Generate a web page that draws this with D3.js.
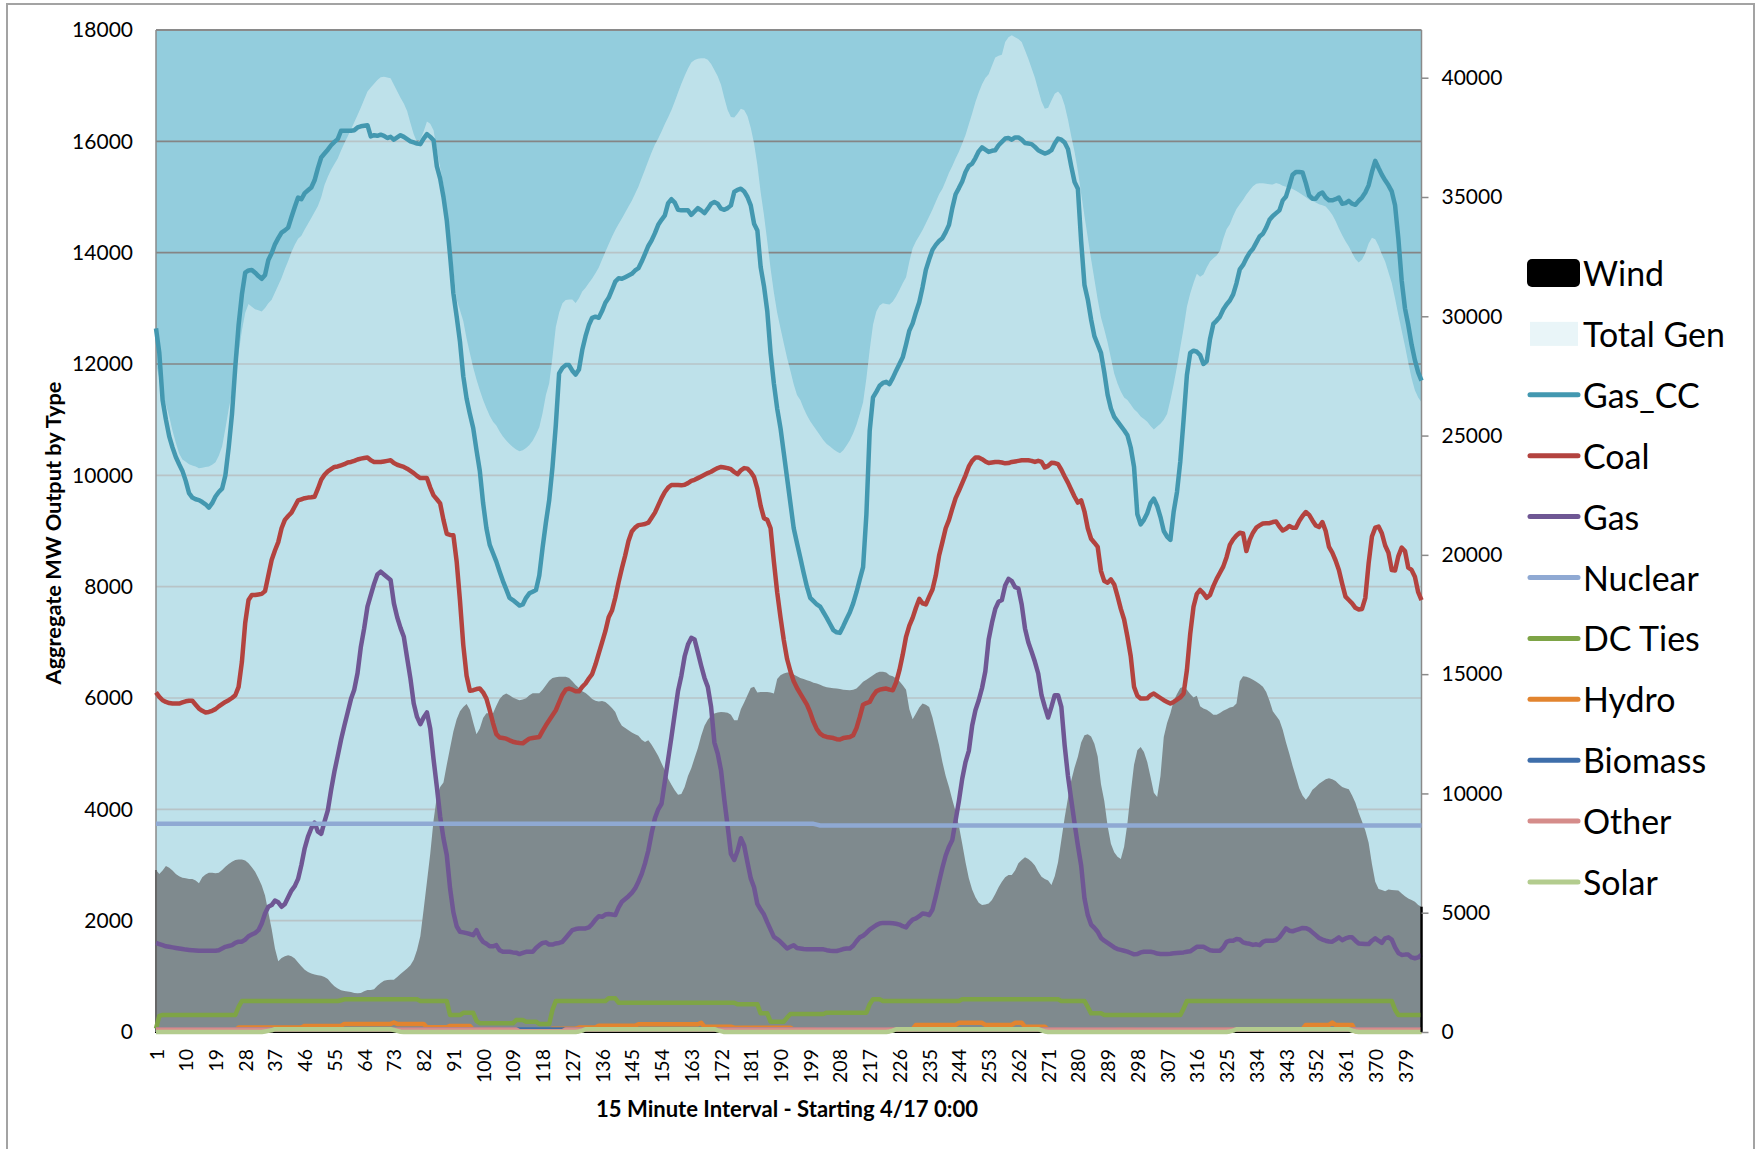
<!DOCTYPE html>
<html><head><meta charset="utf-8">
<script src="https://cdn.jsdelivr.net/npm/d3@7"></script>
<style>
html,body{margin:0;padding:0;background:#fff;}
svg{display:block;font-family:Lato,'Open Sans',sans-serif;}
</style></head>
<body>
<svg id="chart" width="1762" height="1149"></svg>
<script>
// ---------------- DATA ----------------
const categories = d3.range(1, 385); // 15-minute interval numbers 1..384
const xTickLabels = [1,10,19,28,37,46,55,64,73,82,91,100,109,118,127,136,145,154,163,172,181,190,199,208,217,226,235,244,253,262,271,280,289,298,307,316,325,334,343,352,361,370,379];
const leftTicks = [0,2000,4000,6000,8000,10000,12000,14000,16000,18000];
const rightTicks = [0,5000,10000,15000,20000,25000,30000,35000,40000];
const seriesNames = ["Wind","Total Gen","Gas_CC","Coal","Gas","Nuclear","DC Ties","Hydro","Biomass","Other","Solar"];

const wind = [
2910,2840,2900,2980,2950,2900,2840,2800,2770,2760,
2750,2750,2720,2670,2780,2830,2860,2860,2850,2860,
2910,2970,3020,3060,3090,3100,3100,3080,3030,2960,
2880,2760,2630,2450,2150,1850,1500,1270,1330,1360,
1380,1360,1320,1250,1180,1120,1080,1050,1035,1020,
1010,990,950,880,820,780,750,735,728,720,
700,695,700,730,755,755,770,830,880,920,
935,938,940,990,1040,1090,1140,1200,1300,1475,
1720,2200,2700,3200,3800,4230,4400,4480,4800,5100,
5400,5620,5760,5840,5890,5790,5560,5350,5450,5640,
5725,5725,5725,5860,5980,6050,6080,6050,6010,5980,
5960,5975,5995,6050,6085,6085,6085,6150,6230,6310,
6360,6375,6380,6380,6380,6360,6300,6235,6180,6120,
6090,6040,5980,5950,5935,5945,5930,5880,5820,5750,
5600,5500,5460,5420,5380,5350,5320,5250,5210,5240,
5160,5060,4960,4830,4700,4550,4440,4345,4260,4275,
4400,4600,4740,4920,5100,5320,5500,5610,5680,5720,
5740,5750,5745,5735,5700,5600,5600,5800,5920,6050,
6180,6200,6100,6110,6110,6110,6100,6080,6340,6410,
6440,6460,6460,6420,6390,6360,6340,6320,6300,6275,
6260,6240,6210,6195,6185,6175,6170,6160,6150,6145,
6140,6150,6170,6230,6290,6330,6370,6410,6450,6470,
6470,6460,6410,6390,6350,6300,6230,6150,5800,5620,
5720,5830,5900,5880,5840,5650,5400,5150,4850,4600,
4400,4170,3960,3700,3380,3050,2760,2560,2420,2320,
2280,2290,2310,2370,2480,2600,2700,2780,2820,2820,
2900,3030,3090,3140,3110,3060,2990,2880,2790,2750,
2720,2640,2800,3050,3450,3850,4200,4520,4750,4945,
5200,5330,5350,5310,5180,4950,4450,4150,3700,3380,
3230,3150,3110,3330,3750,4300,4800,5060,5120,5030,
4850,4580,4300,4220,4600,5300,5550,5725,5950,6070,
6180,6200,6150,6070,6010,6040,5850,5810,5790,5750,
5700,5700,5730,5770,5800,5830,5845,5900,6300,6390,
6380,6360,6330,6290,6250,6200,6110,5950,5760,5680,
5600,5430,5200,5000,4780,4580,4380,4250,4170,4250,
4350,4400,4460,4500,4540,4560,4540,4510,4450,4400,
4380,4360,4250,4120,3940,3780,3620,3400,3020,2700,
2570,2550,2530,2560,2550,2545,2540,2490,2440,2400,
2370,2340,2280,2250];

const totalGen = [
28000,27400,26800,26300,25800,25200,24700,24250,24000,23900,
23800,23750,23700,23630,23650,23680,23700,23780,23880,24150,
24540,25300,26100,26800,27700,28450,29400,30150,30520,30400,
30300,30250,30200,30350,30550,30690,31000,31300,31600,31980,
32320,32690,33000,33250,33380,33640,33880,34120,34370,34620,
34990,35500,35850,36140,36380,36610,36950,37250,37540,37830,
38130,38440,38750,39090,39420,39590,39750,39900,40020,40040,
40010,39980,39700,39430,39160,38920,38600,38100,37630,37300,
37400,37750,38160,38070,37800,36970,36240,35500,34500,33300,
31900,30700,30250,29800,29070,28450,27850,27350,26900,26490,
26150,25830,25580,25420,25170,24960,24790,24650,24520,24420,
24340,24380,24480,24610,24780,25050,25350,25950,26700,27190,
28300,29550,30150,30550,30680,30700,30700,30560,30760,31040,
31200,31400,31580,31800,32050,32380,32700,33020,33330,33620,
33870,34100,34350,34600,34840,35140,35430,35800,36150,36520,
36880,37200,37450,37750,38060,38340,38650,39000,39380,39750,
40080,40390,40640,40740,40800,40820,40820,40750,40580,40320,
40060,39700,39150,38650,38350,38330,38500,38700,38650,38400,
37900,37250,36350,35200,34250,33150,32000,31000,30150,29500,
28870,28250,27720,27150,26700,26490,26150,25850,25600,25400,
25200,25000,24800,24650,24540,24430,24330,24260,24380,24580,
24800,25100,25450,25900,26400,27400,28600,29650,30200,30450,
30550,30520,30490,30620,30840,31100,31380,31640,32300,32850,
33150,33380,33620,33900,34180,34480,34800,35120,35350,35670,
36020,36300,36610,36900,37240,37600,38050,38500,38980,39380,
39730,39990,40150,40500,40850,40920,40960,41500,41700,41780,
41700,41620,41500,41150,40800,40400,40000,39500,39000,38700,
38740,39050,39330,39420,39250,38850,38250,37550,36900,36100,
35150,34200,33300,32400,31550,30700,29950,29450,28900,28250,
27600,27180,26850,26600,26490,26300,26100,25980,25800,25690,
25580,25400,25250,25380,25500,25660,25900,26490,27150,27900,
28700,29500,30400,30950,31400,31780,31660,31750,32050,32300,
32430,32550,32750,33250,33650,33860,34200,34500,34700,34880,
35100,35280,35450,35560,35580,35580,35560,35530,35520,35590,
35540,35470,35430,35390,35340,35260,35180,35080,34990,34880,
34830,34770,34700,34650,34600,34440,34260,33990,33680,33400,
33150,32920,32650,32400,32250,32380,32650,33050,33290,33230,
32960,32600,32300,31850,31390,30750,30050,29400,28750,28050,
27400,26900,26600,26400];

const gasCC = [
12640,12200,11350,11000,10700,10500,10330,10200,10080,9900,
9680,9600,9570,9555,9520,9480,9420,9500,9620,9700,
9760,10000,10500,11100,11950,12700,13250,13640,13680,13690,
13640,13580,13530,13600,13870,13990,14150,14260,14360,14400,
14450,14640,14820,14990,14960,15070,15120,15170,15300,15520,
15710,15780,15850,15930,15990,16040,16190,16190,16190,16190,
16200,16250,16270,16280,16290,16090,16110,16100,16120,16100,
16060,16080,16030,16070,16110,16080,16040,16000,15980,15960,
15950,16050,16130,16080,16020,15550,15330,15000,14580,13950,
13270,12850,12400,11780,11380,11100,10850,10450,10080,9500,
9050,8750,8600,8450,8270,8100,7950,7800,7760,7710,
7660,7680,7800,7880,7910,7940,8200,8700,9150,9555,
10150,10900,11830,11930,11980,11980,11880,11810,11900,12250,
12500,12700,12830,12850,12830,12950,13100,13190,13330,13480,
13540,13530,13560,13590,13620,13680,13720,13840,13980,14120,
14220,14350,14500,14590,14670,14890,14960,14900,14770,14760,
14760,14760,14680,14740,14800,14760,14710,14790,14880,14910,
14880,14790,14770,14800,14850,15090,15130,15150,15100,15000,
14850,14520,14400,13740,13400,12950,12200,11650,11200,10850,
10400,9950,9500,9050,8780,8520,8250,8000,7800,7740,
7680,7640,7540,7440,7330,7220,7180,7170,7290,7420,
7540,7700,7900,8130,8350,9300,10800,11400,11500,11610,
11660,11680,11640,11750,11880,12000,12120,12350,12600,12730,
12930,13110,13380,13690,13880,14050,14140,14210,14260,14370,
14500,14800,15050,15160,15280,15450,15560,15600,15700,15820,
15890,15850,15810,15830,15840,15930,15990,16050,16060,16030,
16070,16070,16030,15970,15960,15950,15900,15840,15810,15780,
15800,15840,15960,16050,16030,15980,15860,15550,15270,15150,
14200,13420,13160,12800,12500,12350,12200,11850,11450,11200,
11050,10970,10890,10810,10720,10500,10150,9300,9120,9200,
9320,9500,9580,9450,9250,9000,8900,8840,9350,9700,
10250,11000,11800,12200,12240,12220,12160,12000,12050,12450,
12720,12780,12850,12980,13070,13140,13250,13450,13700,13780,
13900,14000,14070,14180,14290,14340,14450,14590,14660,14710,
14760,14940,15010,15200,15400,15450,15450,15440,15250,15030,
14970,14970,15050,15080,14990,14940,14940,14960,14990,14880,
14890,14930,14880,14860,14930,14990,15080,15210,15450,15650,
15520,15400,15300,15210,15100,14850,14250,13500,13000,12700,
12350,12070,11850,11700];

const coal = [
6100,6020,5960,5930,5910,5900,5900,5900,5920,5940,
5950,5950,5880,5810,5770,5740,5750,5770,5800,5850,
5890,5930,5960,6000,6050,6200,6650,7350,7760,7850,
7850,7860,7870,7920,8200,8480,8650,8800,9050,9200,
9270,9330,9440,9550,9570,9590,9600,9605,9615,9760,
9920,10010,10070,10110,10150,10160,10180,10200,10230,10240,
10260,10285,10300,10310,10320,10270,10240,10240,10240,10250,
10260,10270,10220,10190,10170,10150,10120,10080,10040,9990,
9950,9950,9950,9780,9640,9570,9495,9200,8950,8930,
8925,8450,7750,6950,6400,6130,6140,6160,6170,6100,
5990,5780,5550,5350,5290,5280,5270,5240,5215,5200,
5190,5185,5230,5270,5280,5290,5300,5410,5510,5600,
5690,5780,5920,6060,6150,6170,6150,6120,6120,6200,
6260,6350,6430,6600,6800,7000,7200,7450,7570,7800,
8080,8330,8560,8820,8990,9060,9105,9115,9125,9150,
9240,9330,9460,9590,9700,9780,9825,9825,9825,9820,
9830,9860,9900,9920,9950,9980,10010,10040,10065,10100,
10130,10150,10140,10130,10110,10060,10020,10090,10130,10120,
10060,9970,9760,9450,9230,9200,9050,8450,7900,7450,
7040,6700,6480,6300,6180,6080,5980,5880,5740,5570,
5440,5360,5320,5300,5290,5280,5260,5255,5280,5290,
5300,5330,5460,5660,5880,5910,5930,6040,6120,6150,
6160,6170,6150,6140,6280,6500,6780,7100,7300,7440,
7620,7780,7700,7680,7820,7950,8200,8560,8800,9050,
9200,9400,9590,9720,9860,10000,10160,10260,10320,10320,
10290,10250,10220,10230,10240,10240,10230,10215,10220,10240,
10250,10260,10270,10270,10270,10260,10240,10260,10240,10140,
10170,10225,10220,10200,10100,9980,9870,9740,9615,9510,
9550,9350,9050,8860,8790,8715,8280,8100,8070,8130,
8040,7830,7600,7410,7100,6750,6200,6040,5990,5990,
5995,6050,6080,6040,6000,5960,5930,5900,5930,5970,
6010,6080,6500,7150,7640,7870,7940,7880,7800,7850,
8010,8140,8250,8360,8530,8750,8850,8920,8970,8955,
8640,8840,8970,9060,9100,9135,9140,9140,9160,9170,
9080,9010,9040,9090,9060,9060,9180,9270,9340,9290,
9190,9100,9070,9160,9000,8715,8610,8470,8300,8050,
7820,7760,7700,7620,7590,7600,7800,8420,8900,9060,
9080,8960,8740,8610,8300,8290,8550,8700,8640,8340,
8300,8180,7900,7760];

const gas = [
1600,1580,1560,1540,1530,1520,1510,1500,1490,1480,
1475,1470,1465,1460,1460,1460,1460,1460,1460,1470,
1500,1530,1545,1560,1600,1622,1622,1660,1720,1750,
1780,1830,1950,2130,2250,2280,2360,2330,2250,2300,
2420,2540,2620,2750,3000,3300,3510,3660,3760,3600,
3560,3780,3980,4350,4680,4960,5250,5500,5740,5980,
6150,6450,6920,7250,7640,7850,8050,8220,8270,8220,
8170,8120,7700,7450,7260,7100,6720,6350,5900,5660,
5530,5650,5740,5450,4900,4400,3870,3480,3180,2580,
2150,1900,1800,1790,1775,1760,1740,1830,1700,1620,
1585,1540,1540,1560,1470,1440,1440,1440,1430,1425,
1400,1420,1440,1440,1440,1510,1560,1600,1610,1570,
1570,1590,1600,1620,1690,1760,1830,1850,1860,1860,
1860,1880,1940,2020,2080,2070,2110,2120,2110,2100,
2240,2340,2390,2440,2500,2580,2700,2840,3030,3260,
3570,3840,4000,4100,4500,4900,5300,5720,6130,6400,
6750,6960,7080,7050,6820,6580,6360,6200,5840,5200,
5000,4700,4170,3700,3200,3090,3250,3480,3350,3050,
2760,2600,2300,2200,2110,1970,1840,1710,1670,1620,
1560,1500,1530,1560,1510,1500,1490,1485,1485,1485,
1485,1485,1485,1470,1460,1455,1455,1470,1490,1500,
1500,1550,1630,1700,1730,1780,1840,1880,1920,1950,
1960,1960,1960,1955,1945,1930,1900,1880,1960,2020,
2040,2080,2130,2120,2100,2200,2440,2700,2950,3170,
3330,3450,3800,4150,4550,4850,5050,5500,5780,5960,
6180,6480,7050,7350,7600,7730,7760,8020,8140,8100,
7990,7970,7680,7250,7000,6830,6650,6440,6050,5840,
5650,5840,6050,6050,5840,5150,4600,4170,3750,3350,
2990,2400,2100,1930,1870,1800,1690,1640,1600,1560,
1520,1490,1475,1460,1445,1420,1395,1400,1430,1442,
1442,1442,1430,1410,1400,1400,1400,1405,1413,1420,
1425,1430,1440,1450,1490,1530,1532,1532,1500,1470,
1460,1460,1460,1520,1620,1640,1640,1670,1660,1610,
1595,1585,1565,1575,1560,1620,1640,1640,1640,1650,
1700,1780,1860,1820,1810,1830,1850,1870,1865,1840,
1790,1740,1690,1660,1640,1625,1622,1660,1700,1650,
1680,1700,1700,1640,1590,1585,1580,1580,1640,1683,
1640,1600,1683,1700,1660,1520,1420,1385,1390,1390,
1340,1324,1340,1390];

const nuclear = [
3740,3740,3740,3740,3740,3740,3740,3740,3740,3740,3740,3740,3740,3740,3740,3740,3740,3740,3740,3740,
3740,3740,3740,3740,3740,3740,3740,3740,3740,3740,3740,3740,3740,3740,3740,3740,3740,3740,3740,3740,
3740,3740,3740,3740,3740,3740,3740,3740,3740,3740,3740,3740,3740,3740,3740,3740,3740,3740,3740,3740,
3740,3740,3740,3740,3740,3740,3740,3740,3740,3740,3740,3740,3740,3740,3740,3740,3740,3740,3740,3740,
3740,3740,3740,3740,3740,3740,3740,3740,3740,3740,3740,3740,3740,3740,3740,3740,3740,3740,3740,3740,
3740,3740,3740,3740,3740,3740,3740,3740,3740,3740,3740,3740,3740,3740,3740,3740,3740,3740,3740,3740,
3740,3740,3740,3740,3740,3740,3740,3740,3740,3740,3740,3740,3740,3740,3740,3740,3740,3740,3740,3740,
3740,3740,3740,3740,3740,3740,3740,3740,3740,3740,3740,3740,3740,3740,3740,3740,3740,3740,3740,3740,
3740,3740,3740,3740,3740,3740,3740,3740,3740,3740,3740,3740,3740,3740,3740,3740,3740,3740,3740,3740,
3740,3740,3740,3740,3740,3740,3740,3740,3740,3740,3740,3740,3740,3740,3740,3740,3740,3740,3740,3740,
3725,3710,3710,3710,3710,3710,3710,3710,3710,3710,3710,3710,3710,3710,3710,3710,3710,3710,3710,3710,
3710,3710,3710,3710,3710,3710,3710,3710,3710,3710,3710,3710,3710,3710,3710,3710,3710,3710,3710,3710,
3710,3710,3710,3710,3710,3710,3710,3710,3710,3710,3710,3710,3710,3710,3710,3710,3710,3710,3710,3710,
3710,3710,3710,3710,3710,3710,3710,3710,3710,3710,3710,3710,3710,3710,3710,3710,3710,3710,3710,3710,
3710,3710,3710,3710,3710,3710,3710,3710,3710,3710,3710,3710,3710,3710,3710,3710,3710,3710,3710,3710,
3710,3710,3710,3710,3710,3710,3710,3710,3710,3710,3710,3710,3710,3710,3710,3710,3710,3710,3710,3710,
3710,3710,3710,3710,3710,3710,3710,3710,3710,3710,3710,3710,3710,3710,3710,3710,3710,3710,3710,3710,
3710,3710,3710,3710,3710,3710,3710,3710,3710,3710,3710,3710,3710,3710,3710,3710,3710,3710,3710,3710,
3710,3710,3710,3710,3710,3710,3710,3710,3710,3710,3710,3710,3710,3710,3710,3710,3710,3710,3710,3710,
3710,3710,3710,3710];

const dcTies = [
60,290,305,305,305,305,305,305,305,305,
305,305,305,305,305,305,305,305,305,305,
305,305,305,305,305,450,557,557,557,557,
557,557,557,557,557,557,557,557,557,557,
557,557,557,557,557,557,557,557,557,557,
557,557,557,557,557,557,570,587,587,587,
587,587,587,587,587,587,587,587,587,587,
587,587,587,587,587,587,587,587,587,587,
557,557,557,557,557,557,557,557,557,305,
305,305,305,345,345,345,345,200,156,156,
156,156,156,156,156,156,156,156,156,215,
215,215,185,185,185,185,144,144,144,144,
400,557,557,557,557,557,557,557,557,557,
557,557,557,557,557,557,557,605,605,605,
527,527,527,527,527,527,527,527,527,527,
527,527,527,527,527,527,527,527,527,527,
527,527,527,527,527,527,527,527,527,527,
527,527,527,527,527,527,497,497,497,497,
497,497,497,335,335,335,185,185,185,185,
185,260,323,323,323,323,323,323,323,323,
323,323,323,347,347,347,347,347,347,347,
347,347,347,347,347,347,500,587,587,587,
557,557,557,557,557,557,557,557,557,557,
557,557,557,557,557,557,557,557,557,557,
557,557,557,557,587,587,587,587,587,587,
587,587,587,587,587,587,587,587,587,587,
587,587,587,587,587,587,587,587,587,587,
587,587,587,587,557,557,557,557,557,557,
557,557,450,335,335,335,335,305,305,305,
305,305,305,305,305,305,305,305,305,305,
305,305,305,305,305,305,305,305,305,305,
305,420,557,557,557,557,557,557,557,557,
557,557,557,557,557,557,557,557,557,557,
557,557,557,557,557,557,557,557,557,557,
557,557,557,557,557,557,557,557,557,557,
557,557,557,557,557,557,557,557,557,557,
557,557,557,557,557,557,557,557,557,557,
557,557,557,557,557,400,305,305,305,305,
305,305,305,305];

const hydro = [
30,30,30,30,30,30,30,30,30,30,
30,30,30,30,30,30,30,30,30,30,
30,30,30,30,30,80,80,80,80,80,
80,80,80,80,80,80,80,80,80,80,
80,80,80,80,80,110,110,110,110,110,
110,110,110,110,110,110,110,145,145,145,
145,145,145,145,145,145,145,145,145,145,
145,145,170,145,145,145,145,145,145,145,
145,145,85,85,85,85,85,85,85,110,
110,110,110,110,110,110,40,40,40,40,
50,50,50,50,50,20,20,20,20,20,
20,20,20,20,20,20,20,20,20,20,
60,60,60,60,60,60,60,60,80,80,
80,80,80,80,113,113,113,113,113,113,
113,113,113,113,113,113,140,140,140,140,
140,140,140,140,140,140,140,140,140,140,
140,140,140,140,140,165,95,95,95,95,
95,95,95,95,95,77,77,77,77,77,
77,77,77,77,77,77,77,77,77,77,
77,77,77,40,50,50,50,50,50,50,
15,15,15,15,15,15,15,15,15,15,
15,15,15,15,15,15,15,15,15,15,
15,15,50,50,50,50,50,50,50,50,
128,128,128,128,128,128,128,128,128,128,
128,128,128,165,165,165,165,165,165,165,
165,128,128,128,128,128,128,128,128,128,
165,165,165,95,95,95,95,95,95,95,
40,40,40,40,40,40,40,15,15,15,
15,15,15,15,15,15,15,15,15,15,
15,40,40,40,40,40,40,15,15,15,
15,15,15,15,15,15,15,15,15,15,
15,15,15,15,15,15,15,50,50,50,
50,50,50,50,50,50,50,50,50,50,
50,50,50,50,50,50,50,50,50,50,
50,50,50,50,50,50,50,50,128,128,
128,128,128,128,128,128,170,128,128,128,
128,128,128,15,15,15,15,15,15,15,
15,15,15,15,15,15,15,15,15,15,
15,15,15,15];

const biomass = [
45,45,45,45,45,45,45,45,45,45,45,45,45,45,45,45,45,45,45,45,45,45,45,45,
45,45,45,45,45,45,45,45,45,45,45,45,45,45,45,45,45,45,45,45,45,45,45,45,
45,45,45,45,45,45,45,45,45,45,45,45,45,45,45,45,45,45,45,45,45,45,45,45,
45,45,45,45,45,45,45,45,45,45,45,45,45,45,45,45,45,45,45,45,45,45,45,45,
45,45,45,45,45,45,45,45,45,45,45,45,45,45,45,45,45,45,45,45,45,45,45,45,
45,45,45,45,45,45,45,45,45,45,45,45,45,45,45,45,45,45,45,45,45,45,45,45,
45,45,45,45,45,45,45,45,45,45,45,45,45,45,45,45,45,45,45,45,45,45,45,45,
45,45,45,45,45,45,45,45,45,45,45,45,45,45,45,45,45,45,45,45,45,45,45,45,
45,45,45,45,45,45,45,45,45,45,45,45,45,45,45,45,45,45,45,45,45,45,45,45,
45,45,45,45,45,45,45,45,45,45,45,45,45,45,45,45,45,45,45,45,45,45,45,45,
45,45,45,45,45,45,45,45,45,45,45,45,45,45,45,45,45,45,45,45,45,45,45,45,
45,45,45,45,45,45,45,45,45,45,45,45,45,45,45,45,45,45,45,45,45,45,45,45,
45,45,45,45,45,45,45,45,45,45,45,45,45,45,45,45,45,45,45,45,45,45,45,45,
45,45,45,45,45,45,45,45,45,45,45,45,45,45,45,45,45,45,45,45,45,45,45,45,
45,45,45,45,45,45,45,45,45,45,45,45,45,45,45,45,45,45,45,45,45,45,45,45,
45,45,45,45,45,45,45,45,45,45,45,45,45,45,45,45,45,45,45,45,45,45,45,45];

const other = [
45,45,45,45,45,45,45,45,45,45,45,45,45,45,45,45,45,45,45,45,45,45,45,45,
45,45,45,45,45,45,45,45,45,45,45,45,45,45,45,45,45,45,45,45,45,45,45,45,
45,45,45,45,45,45,45,45,45,45,45,45,45,45,45,45,45,45,45,45,45,45,45,45,
45,45,45,45,45,45,45,45,45,45,45,45,45,45,45,45,45,45,45,45,45,45,45,45,
45,45,45,45,45,45,45,45,45,45,45,45,45,45,15,15,15,15,15,15,15,15,15,15,
15,15,15,15,45,45,45,45,45,45,45,45,45,45,45,45,45,45,45,45,45,45,45,45,
45,45,45,45,45,45,45,45,45,45,45,45,45,45,45,45,45,45,45,45,45,45,45,45,
45,45,45,45,45,45,45,45,45,45,45,45,45,45,45,45,45,45,45,45,45,45,45,45,
45,45,45,45,45,45,45,45,45,45,45,45,45,45,45,45,45,45,45,45,45,45,45,45,
45,45,45,45,45,45,45,45,45,45,45,45,45,45,45,45,45,45,45,45,45,45,45,45,
45,45,45,45,45,45,45,45,45,45,45,45,45,45,45,45,45,45,45,45,45,45,45,45,
45,45,45,45,45,45,45,45,45,45,45,45,45,45,45,45,45,45,45,45,45,45,45,45,
45,45,45,45,45,45,45,45,45,45,45,45,45,45,45,45,45,45,45,45,45,45,45,45,
45,45,45,45,45,45,45,45,45,45,45,45,45,45,45,45,45,45,45,45,45,45,45,45,
45,45,45,45,45,45,45,45,45,45,45,45,45,45,45,45,45,45,45,45,45,45,45,45,
45,45,45,45,45,45,45,45,45,45,45,45,45,45,45,45,45,45,45,45,45,45,45,45];

const solar = [
0,0,0,0,0,0,0,0,0,0,
0,0,0,0,0,0,0,0,0,0,
0,0,0,0,0,0,0,0,0,0,
0,0,0,10,20,30,50,50,50,50,
50,50,50,50,50,50,50,50,50,50,
50,50,50,50,50,50,50,50,50,50,
50,50,50,50,50,50,50,50,50,50,
50,50,35,20,5,0,0,0,0,0,
0,0,0,0,0,0,0,0,0,0,
0,0,0,0,0,0,0,0,0,0,
0,0,0,0,0,0,0,0,0,0,
0,0,0,0,0,0,0,0,0,0,
0,0,0,0,0,0,0,0,10,25,
50,50,50,50,50,50,50,50,50,50,
50,50,50,50,50,50,50,50,50,50,
50,50,50,50,50,50,50,50,50,50,
50,50,50,50,50,50,50,50,50,50,
30,15,0,0,0,0,0,0,0,0,
0,0,0,0,0,0,0,0,0,0,
0,0,0,0,0,0,0,0,0,0,
0,0,0,0,0,0,0,0,0,0,
0,0,0,0,0,0,0,0,0,0,
0,0,10,25,50,50,50,50,50,50,
50,50,50,50,50,50,50,50,50,50,
50,50,50,50,50,50,50,50,50,50,
50,50,50,50,50,50,50,50,50,50,
50,50,50,50,50,50,50,50,30,10,
0,0,0,0,0,0,0,0,0,0,
0,0,0,0,0,0,0,0,0,0,
0,0,0,0,0,0,0,0,0,0,
0,0,0,0,0,0,0,0,0,0,
0,0,0,0,0,0,0,0,0,0,
0,0,0,0,0,10,25,50,50,50,
50,50,50,50,50,50,50,50,50,50,
50,50,50,50,50,50,50,50,50,50,
50,50,50,50,50,50,50,50,50,50,
50,50,25,10,0,0,0,0,0,0,
0,0,0,0,0,0,0,0,0,0,
0,0,0,0];

// ---------------- STYLE / LAYOUT ----------------
const PL = 156, PR = 1421.5, PT = 30, PB = 1032;
const FONT = "Lato, 'Open Sans', sans-serif";
const colors = {
  "Wind": "#7F8A8E", "Total Gen": "#DAEEF3", "Gas_CC": "#4398B0", "Coal": "#B3433F",
  "Gas": "#6F5794", "Nuclear": "#8FA9D3", "DC Ties": "#7EA446", "Hydro": "#E2842F",
  "Biomass": "#3E6EAA", "Other": "#D58C8A", "Solar": "#B3CC8E"
};
const lineSeries = [
  ["Gas_CC", gasCC], ["Coal", coal], ["Gas", gas], ["Nuclear", nuclear], ["DC Ties", dcTies],
  ["Hydro", hydro], ["Biomass", biomass], ["Other", other], ["Solar", solar]
];
[wind, totalGen].concat(lineSeries.map(d => d[1])).forEach((a, k) => {
  if (a.length !== 384) throw new Error("series " + k + " has length " + a.length);
});

const svg = d3.select("#chart");
const x = d3.scalePoint().domain(categories).range([PL, PR]);
const yL = d3.scaleLinear().domain([0, 18000]).range([PB, PT]);
const yR = d3.scaleLinear().domain([0, 42000]).range([PB, PT]);
const fmt = d3.format("d");

// outer frame
svg.append("rect").attr("x", 7).attr("y", 4).attr("width", 1747).attr("height", 1180)
  .attr("fill", "#fff").attr("stroke", "#a3a3a3").attr("stroke-width", 2);

// plot background
svg.append("rect").attr("x", PL).attr("y", PT).attr("width", PR - PL).attr("height", PB - PT)
  .attr("fill", "#93CDDD");

// gridlines
svg.append("g").selectAll("line").data(leftTicks.filter(v => v > 0 && v < 18000)).join("line")
  .attr("x1", PL).attr("x2", PR).attr("y1", d => yL(d)).attr("y2", d => yL(d))
  .attr("stroke", "#858585").attr("stroke-width", 1.6);

// Total Gen area (right axis)
const areaR = d3.area().x((d, i) => x(categories[i])).y0(yR(0)).y1(d => yR(d));
svg.append("path").datum(totalGen).attr("d", areaR)
  .attr("fill", colors["Total Gen"]).attr("fill-opacity", 0.6);

// Wind area (left axis)
const areaL = d3.area().x((d, i) => x(categories[i])).y0(yL(0)).y1(d => yL(d));
svg.append("path").datum(wind).attr("d", areaL).attr("fill", colors["Wind"]);
const wEdge = d3.path();
wEdge.moveTo(x(categories[0]), yL(wind[0]));
wEdge.lineTo(x(categories[0]), yL(0));
wEdge.lineTo(x(categories[383]), yL(0));
wEdge.lineTo(x(categories[383]), yL(wind[383]));
svg.append("path").attr("d", wEdge.toString()).attr("fill", "none")
  .attr("stroke", "#000").attr("stroke-width", 2);

// plot frame lines
svg.append("line").attr("x1", PL).attr("x2", PR).attr("y1", PT).attr("y2", PT)
  .attr("stroke", "#8a8a8a").attr("stroke-width", 2);
svg.append("line").attr("x1", PL).attr("x2", PL).attr("y1", PT).attr("y2", PB)
  .attr("stroke", "#8a8a8a").attr("stroke-width", 1.5);
svg.append("line").attr("x1", PR).attr("x2", PR).attr("y1", PT).attr("y2", PB)
  .attr("stroke", "#8a8a8a").attr("stroke-width", 1.5);

// series lines
const line = d3.line().x((d, i) => x(categories[i])).y(d => yL(d));
lineSeries.forEach(([name, data]) => {
  svg.append("path").datum(data).attr("d", line).attr("fill", "none")
    .attr("stroke", colors[name]).attr("stroke-width", 4.5)
    .attr("stroke-linejoin", "round").attr("stroke-linecap", "butt");
});
svg.append("line").attr("x1", PR).attr("x2", PR).attr("y1", yL(0)).attr("y2", yL(wind[383]))
  .attr("stroke", "#000").attr("stroke-width", 2);

// left axis
const gL = svg.append("g").attr("transform", `translate(${PL},0)`)
  .call(d3.axisLeft(yL).tickValues(leftTicks).tickFormat(fmt).tickSize(0).tickPadding(23));
gL.select(".domain").remove();
gL.attr("font-family", FONT).attr("font-size", 21);
gL.selectAll("text").attr("fill", "#000");

// right axis
const gR = svg.append("g").attr("transform", `translate(${PR},0)`)
  .call(d3.axisRight(yR).tickValues(rightTicks).tickFormat(fmt).tickSize(7).tickSizeOuter(0).tickPadding(13));
gR.select(".domain").remove();
gR.attr("font-family", FONT).attr("font-size", 21);
gR.selectAll("line").attr("stroke", "#8a8a8a").attr("stroke-width", 1.5);
gR.selectAll("text").attr("fill", "#000");

// bottom axis
const gB = svg.append("g").attr("transform", `translate(0,${PB})`)
  .call(d3.axisBottom(x).tickValues(xTickLabels).tickFormat(fmt).tickSize(0));
gB.select(".domain").remove();
gB.attr("font-family", FONT).attr("font-size", 19.5);
gB.selectAll("text").attr("fill", "#000")
  .attr("transform", "rotate(-90)").attr("text-anchor", "end")
  .attr("x", -17).attr("y", 0).attr("dy", "0.36em");

// titles
function fit(sel, target) {
  const n = sel.node(); const fs = parseFloat(sel.attr("font-size"));
  const w = n.getComputedTextLength(); if (w > 0) sel.attr("font-size", fs * target / w);
}
const yTitle = svg.append("text").attr("transform", "translate(53,533) rotate(-90)")
  .attr("text-anchor", "middle").attr("dominant-baseline", "central")
  .attr("font-family", FONT).attr("font-weight", "bold").attr("font-size", 21)
  .text("Aggregate MW Output by Type");
fit(yTitle, 303);
const xTitle = svg.append("text").attr("x", 787).attr("y", 1108)
  .attr("text-anchor", "middle").attr("dominant-baseline", "central")
  .attr("font-family", FONT).attr("font-weight", "bold").attr("font-size", 21)
  .text("15 Minute Interval - Starting 4/17 0:00");
fit(xTitle, 382);

// legend
const LX0 = 1530, LX1 = 1578, LT = 1583, LY0 = 273, LDY = 60.9;
const lg = svg.append("g");
seriesNames.forEach((name, k) => {
  const cy = LY0 + k * LDY;
  if (name === "Wind") {
    lg.append("rect").attr("x", 1527).attr("y", cy - 14).attr("width", 53).attr("height", 28)
      .attr("rx", 5).attr("fill", "#000");
  } else if (name === "Total Gen") {
    lg.append("rect").attr("x", LX0).attr("y", cy - 12).attr("width", LX1 - LX0).attr("height", 24)
      .attr("fill", colors[name]).attr("fill-opacity", 0.6);
  } else {
    lg.append("line").attr("x1", LX0).attr("x2", LX1).attr("y1", cy).attr("y2", cy)
      .attr("stroke", colors[name]).attr("stroke-width", 5).attr("stroke-linecap", "round");
  }
  lg.append("text").attr("class", "lgt").attr("x", LT).attr("y", cy)
    .attr("dominant-baseline", "central").attr("font-family", FONT).attr("font-size", 32)
    .attr("fill", "#000").text(name);
});
const tg = lg.selectAll("text.lgt").filter(function () { return this.textContent === "Total Gen"; });
const baseW = tg.node().getComputedTextLength();
if (baseW > 0) lg.selectAll("text.lgt").attr("font-size", 32 * 142 / baseW);
</script>
</body></html>
